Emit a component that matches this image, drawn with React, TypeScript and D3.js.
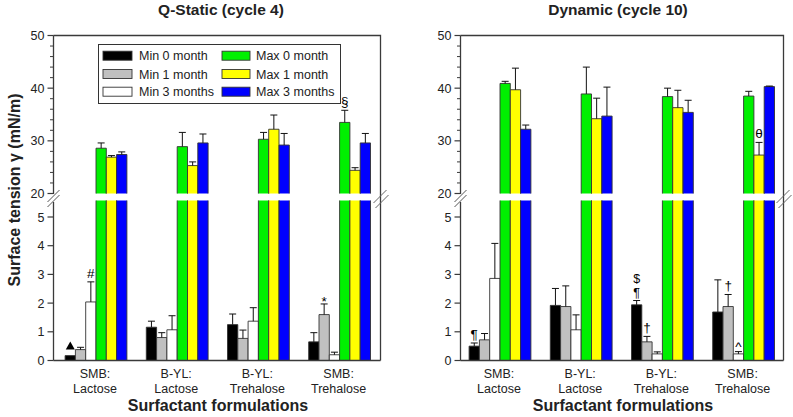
import React from "react";
import * as d3 from "d3";

const W = 793;
const H = 417;

const catLine1 = ["SMB:", "B-YL:", "B-YL:", "SMB:"];
const catLine2 = ["Lactose", "Lactose", "Trehalose", "Trehalose"];
const categories = catLine1.map((c, i) => c + " " + catLine2[i]);

const seriesNames = ["Min 0 month", "Min 1 month", "Min 3 months", "Max 0 month", "Max 1 month", "Max 3 months"];
const seriesColors = ["#000000", "#c0c0c0", "#ffffff", "#00f000", "#ffff00", "#0000ff"];

// Q-Static (cycle 4)
const staticMin0 = [0.17, 1.16, 1.25, 0.65];
const staticMin0Sd = [0, 0.21, 0.37, 0.32];
const staticMin1 = [0.38, 0.8, 0.77, 1.6];
const staticMin1Sd = [0.08, 0.17, 0.29, 0.37];
const staticMin3 = [2.04, 1.07, 1.37, 0.2];
const staticMin3Sd = [0.7, 0.49, 0.47, 0.09];
const staticMax0 = [28.6, 28.9, 30.3, 33.5];
const staticMax0Sd = [1.0, 2.7, 1.3, 2.3];
const staticMax1 = [26.9, 25.3, 32.2, 24.4];
const staticMax1Sd = [0.3, 0.7, 2.7, 0.5];
const staticMax3 = [27.4, 29.6, 29.2, 29.6];
const staticMax3Sd = [0.5, 1.7, 2.2, 1.8];

// Dynamic (cycle 10)
const dynMin0 = [0.5, 1.92, 1.94, 1.69];
const dynMin0Sd = [0.11, 0.59, 0.15, 1.12];
const dynMin1 = [0.72, 1.88, 0.65, 1.88];
const dynMin1Sd = [0.22, 0.72, 0.19, 0.42];
const dynMin3 = [2.86, 1.07, 0.23, 0.23];
const dynMin3Sd = [1.22, 0.52, 0.07, 0.08];
const dynMax0 = [40.9, 38.9, 38.4, 38.5];
const dynMax0Sd = [0.4, 5.1, 1.6, 0.9];
const dynMax1 = [39.7, 34.2, 36.3, 27.3];
const dynMax1Sd = [4.1, 3.9, 3.3, 2.4];
const dynMax3 = [32.2, 34.7, 35.4, 40.3];
const dynMax3Sd = [0.8, 5.5, 2.3, 0.1];

// annotations: [category index, series index, symbol, stack level]
const staticMarks: [number, number, string, number][] = [
  [0, 0, "▲", 0],
  [0, 2, "#", 0],
  [3, 1, "*", 0],
  [3, 3, "§", 0],
];
const dynMarks: [number, number, string, number][] = [
  [0, 0, "¶", 0],
  [2, 0, "¶", 0],
  [2, 0, "$", 1],
  [2, 1, "†", 0],
  [3, 1, "†", 0],
  [3, 2, "^", 0],
  [3, 4, "θ", 0],
];

const upperTicks = [20, 30, 40, 50];
const upperMinor = d3.range(22, 50, 2).filter((v) => v % 10 !== 0);
const lowerTicks = [0, 1, 2, 3, 4, 5];

const FONT = "'Liberation Sans', Arial, Helvetica, sans-serif";
const SYMFONT = "'Liberation Sans', 'DejaVu Sans', sans-serif";
const AXC = "#3a3a3a";
const TXT = "#222";

const yUp = d3.scaleLinear().domain([20, 50]).range([193.5, 35.5]);
const yLow = d3.scaleLinear().domain([0, 5]).range([360.5, 217]);
const LOWER_TOP = 200.5;
const BW = 10.3;
const STEP = 81.2;

type PanelProps = {
  title: string;
  titleX: number;
  axisX: number;
  rightX: number;
  x0: number;
  vals: number[][];
  sds: number[][];
  marks: [number, number, string, number][];
  legend: boolean;
};

function Panel(p: PanelProps) {
  const x = d3
    .scaleBand<string>()
    .domain(categories)
    .range([p.x0 - STEP / 2, p.x0 + STEP * 3.5])
    .padding(0);
  const center = (ci: number) => (x(categories[ci]) as number) + x.bandwidth() / 2;
  const barX = (ci: number, si: number) => center(ci) + (si - 3) * BW;
  const valY = (si: number, v: number) => (si < 3 ? yLow(v) : yUp(v));

  const bars: JSX.Element[] = [];
  const errs: JSX.Element[] = [];
  p.vals.forEach((arr, si) => {
    arr.forEach((v, ci) => {
      const bx = barX(ci, si);
      const sd = p.sds[si][ci];
      const col = seriesColors[si];
      const key = `${si}-${ci}`;
      if (si < 3) {
        const top = yLow(v);
        const bot = yLow(0);
        bars.push(
          <g key={key}>
            <rect x={bx} y={top} width={BW} height={bot - top} fill={col} />
            <path
              d={`M${bx},${bot}V${top}H${bx + BW}V${bot}`}
              fill="none"
              stroke="#333"
              strokeWidth={0.9}
            />
          </g>
        );
      } else {
        const top = yUp(v);
        const bot = yUp(20);
        const lb = yLow(0);
        bars.push(
          <g key={key}>
            <rect x={bx} y={LOWER_TOP} width={BW} height={lb - LOWER_TOP} fill={col} />
            <path d={`M${bx},${lb}V${LOWER_TOP}M${bx + BW},${LOWER_TOP}V${lb}`} stroke="#333" strokeWidth={0.9} />
            <rect x={bx} y={top} width={BW} height={bot - top} fill={col} />
            <path
              d={`M${bx},${bot}V${top}H${bx + BW}V${bot}`}
              fill="none"
              stroke="#333"
              strokeWidth={0.9}
            />
          </g>
        );
      }
      if (sd > 0) {
        const cx = bx + BW / 2;
        const y1 = valY(si, v);
        const y2 = valY(si, v + sd);
        errs.push(
          <path
            key={"e" + key}
            d={`M${cx},${y1}V${y2}M${cx - 3.5},${y2}H${cx + 3.5}`}
            stroke="#111"
            strokeWidth={1}
            fill="none"
          />
        );
      }
    });
  });

  const marks = p.marks.map(([ci, si, sym, lvl], i) => {
    const v = p.vals[si][ci];
    const sd = p.sds[si][ci];
    const cx = barX(ci, si) + BW / 2;
    const capY = valY(si, v + sd);
    if (sym === "▲") {
      const b = capY - 6;
      const tri = d3.line()([
        [cx - 4.5, b],
        [cx + 4.5, b],
        [cx, b - 8],
      ]);
      return <path key={"m" + i} d={tri + "Z"} fill="#000" />;
    }
    let base = capY - 4 - lvl * 15;
    let size = 13.5;
    if (sym === "^") base = capY - 0.5;
    if (sym === "*") base = capY + 2;
    const stacked = p.marks.some((m) => m[0] === ci && m[1] === si && m[3] !== lvl);
    if (stacked) {
      size = 12.5;
      base = capY - 4 - lvl * 14;
    }
    return (
      <text key={"m" + i} x={cx} y={base} textAnchor="middle" fontSize={size} fontFamily={SYMFONT} fill="#000">
        {sym}
      </text>
    );
  });

  const ax = p.axisX;
  const breakUp = 194;
  const breakLow = 202;

  return (
    <g>
      <text x={p.titleX} y={15} textAnchor="middle" fontSize={15.5} fontWeight="bold" fontFamily={FONT} fill={TXT}>
        {p.title}
      </text>
      {bars}
      {errs}
      {marks}
      {/* frame */}
      <path d={`M${ax},${yUp(50)}H${p.rightX}V${yLow(0)}`} fill="none" stroke={AXC} strokeWidth={1.3} />
      <path d={`M${ax},${yLow(0)}H${p.rightX}`} stroke={AXC} strokeWidth={1.3} />
      <path d={`M${ax},${yUp(50)}V${breakUp}M${ax},${breakLow}V${yLow(0)}`} stroke={AXC} strokeWidth={1.3} />
      {/* break marks */}
      <path
        d={`M${ax - 6},${breakUp + 8}L${ax + 6},${breakUp - 4}M${ax - 6},${breakUp + 13}L${ax + 6},${breakUp + 1}`}
        stroke="#555"
        strokeWidth={1}
      />
      <path
        d={`M${p.rightX - 7},${203}L${p.rightX + 6},${190}M${p.rightX - 5},${208}L${p.rightX + 8},${195}`}
        stroke="#666"
        strokeWidth={1}
      />
      {/* y ticks */}
      {upperTicks.map((t) => (
        <g key={"u" + t}>
          <path d={`M${ax - 6},${yUp(t)}H${ax}`} stroke={AXC} strokeWidth={1.2} />
          <text x={ax - 9} y={yUp(t) + 4.5} textAnchor="end" fontSize={12.5} fontFamily={FONT} fill={TXT}>
            {t}
          </text>
        </g>
      ))}
      {upperMinor.map((t) => (
        <path key={"um" + t} d={`M${ax - 3.5},${yUp(t)}H${ax}`} stroke={AXC} strokeWidth={1} />
      ))}
      {lowerTicks.map((t) => (
        <g key={"l" + t}>
          <path d={`M${ax - 6},${yLow(t)}H${ax}`} stroke={AXC} strokeWidth={1.2} />
          <text x={ax - 9} y={yLow(t) + 4.5} textAnchor="end" fontSize={12.5} fontFamily={FONT} fill={TXT}>
            {t}
          </text>
        </g>
      ))}
      {/* x labels */}
      {categories.map((c, ci) => (
        <text key={"x" + ci} textAnchor="middle" fontSize={12.5} fontFamily={FONT} fill={TXT}>
          <tspan x={center(ci) - 1} y={378}>
            {catLine1[ci]}
          </tspan>
          <tspan x={center(ci) - 1} y={393}>
            {catLine2[ci]}
          </tspan>
        </text>
      ))}
      <text
        x={(ax + p.rightX) / 2 + 1}
        y={411}
        textAnchor="middle"
        fontSize={16}
        fontWeight="bold"
        fontFamily={FONT}
        fill={TXT}
      >
        Surfactant formulations
      </text>
      {p.legend && <Legend />}
    </g>
  );
}

function Legend() {
  const rows = [55.7, 74, 91.7];
  const cols = [
    { sx: 103, sw: 29, tx: 139 },
    { sx: 222, sw: 28, tx: 256 },
  ];
  return (
    <g>
      <rect x={98.5} y={44.5} width={242} height={59} fill="#fff" stroke="#333" strokeWidth={1} />
      {seriesNames.map((n, i) => {
        const c = cols[Math.floor(i / 3)];
        const ry = rows[i % 3];
        return (
          <g key={n}>
            <rect x={c.sx} y={ry - 4.5} width={c.sw} height={9} fill={seriesColors[i]} stroke="#333" strokeWidth={0.9} />
            <text x={c.tx} y={ry + 4.5} fontSize={12.5} fontFamily={FONT} fill={TXT}>
              {n}
            </text>
          </g>
        );
      })}
    </g>
  );
}

export default function App() {
  const staticVals = [staticMin0, staticMin1, staticMin3, staticMax0, staticMax1, staticMax3];
  const staticSds = [staticMin0Sd, staticMin1Sd, staticMin3Sd, staticMax0Sd, staticMax1Sd, staticMax3Sd];
  const dynVals = [dynMin0, dynMin1, dynMin3, dynMax0, dynMax1, dynMax3];
  const dynSds = [dynMin0Sd, dynMin1Sd, dynMin3Sd, dynMax0Sd, dynMax1Sd, dynMax3Sd];
  return (
    <svg width={W} height={H} style={{ position: "absolute", left: 0, top: 0, background: "#fff" }}>
      <rect width={W} height={H} fill="#fff" />
      <text
        transform={`translate(20,190) rotate(-90)`}
        textAnchor="middle"
        fontSize={16}
        fontWeight="bold"
        fontFamily={FONT}
        fill={TXT}
      >
        Surface tension γ (mN/m)
      </text>
      <Panel
        title="Q-Static (cycle 4)"
        titleX={221}
        axisX={53.5}
        rightX={380.5}
        x0={96}
        vals={staticVals}
        sds={staticSds}
        marks={staticMarks}
        legend={true}
      />
      <Panel
        title="Dynamic (cycle 10)"
        titleX={618}
        axisX={460.5}
        rightX={783.5}
        x0={500}
        vals={dynVals}
        sds={dynSds}
        marks={dynMarks}
        legend={false}
      />
    </svg>
  );
}
